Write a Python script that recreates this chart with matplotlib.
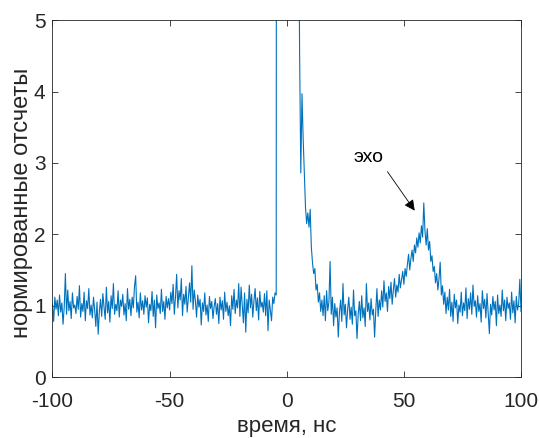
import numpy as np
import matplotlib
matplotlib.use('Agg')
import matplotlib.pyplot as plt

plt.rcParams['font.family'] = ['Liberation Sans', 'DejaVu Sans']
plt.rcParams['axes.unicode_minus'] = False

# sampled every 0.5 ns starting at -100 ns
t_start = -100.0
t_step = 0.5

# -100 .. -4.5 ns, background before the pulse
pre_pulse = [
    1.02, 0.78, 1.12, 0.95, 1.08, 0.86, 1.15, 0.91, 1.04, 0.74, 0.98, 1.45, 0.88, 1.22, 0.93, 1.06, 0.82, 1.18, 0.97, 1.01,
    0.89, 1.13, 0.95, 1.28, 0.84, 1.03, 0.92, 1.19, 0.79, 1.07, 0.96, 1.24, 0.87, 1.01, 0.83, 1.12, 0.94, 0.71, 1.05, 0.60,
    0.92, 1.09, 0.85, 1.17, 0.98, 0.81, 1.26, 0.90, 1.06, 0.77, 1.14, 0.96, 1.31, 0.88, 1.02, 0.93, 1.21, 0.84, 1.08, 0.99,
    1.16, 0.87, 1.03, 0.79, 1.24, 0.95, 1.09, 0.86, 1.12, 0.97, 1.27, 1.42, 0.91, 1.05, 0.83, 1.18, 0.94, 1.07, 0.88, 1.14,
    0.98, 1.11, 0.76, 1.02, 0.93, 1.20, 0.85, 1.08, 0.69, 1.15, 0.96, 1.04, 0.89, 1.23, 0.92, 1.06, 0.81, 1.13, 0.97, 1.10,
    0.94, 1.19, 1.03, 1.30, 0.88, 1.12, 1.44, 0.97, 1.21, 1.08, 1.38, 0.86, 1.16, 1.02, 1.27, 0.91, 1.11, 1.32, 1.05, 1.56,
    0.95, 1.22, 1.07, 0.84, 1.15, 0.98, 1.09, 0.73, 1.04, 0.92, 1.18, 0.87, 1.01, 0.78, 1.13, 0.96, 1.06, 0.82, 0.99, 1.10,
    0.88, 1.03, 0.75, 1.12, 0.94, 1.07, 0.81, 1.19, 0.92, 1.05, 0.86, 1.00, 0.72, 1.14, 0.95, 1.23, 0.89, 1.08, 0.97, 1.31,
    0.85, 1.26, 1.02, 0.76, 1.18, 0.63, 1.09, 0.90, 1.29, 0.97, 1.16, 0.84, 1.07, 1.24, 0.93, 1.11, 0.80, 1.20, 0.98, 1.05,
    0.91, 1.17, 0.86, 1.21, 0.65, 1.08, 0.93, 0.79, 1.12, 1.03, 1.18, 1.15,
]
# -4 .. 5 ns, main pulse (off scale)
pulse = [38, 72, 95, 110, 118, 121, 119, 112, 101, 88, 74, 60, 47, 36, 27, 20, 14, 10, 7.0]
# 5.5 .. 15 ns
decay = [4.50, 2.86, 3.97, 3.35, 2.85, 2.38, 2.15, 2.30, 2.10, 2.35,
         1.82, 1.60, 1.45, 1.52, 1.22, 1.30, 1.05, 1.18, 0.92, 1.08]
# 15.5 .. 40 ns
valley = [
    0.86, 1.14, 0.79, 1.21, 0.93, 1.05, 1.62, 0.88, 1.12, 0.72,
    1.03, 0.84, 0.97, 0.56, 0.91, 1.08, 0.78, 1.31, 0.87, 1.02,
    0.69, 0.95, 1.12, 0.81, 0.98, 0.74, 1.22, 0.86, 0.93, 0.54,
    0.88, 1.06, 0.79, 1.14, 0.83, 0.97, 0.71, 1.31, 0.92, 1.04,
    0.80, 1.10, 0.87, 0.95, 0.56, 0.93, 1.24, 0.85, 1.08, 0.94,
]
# 40.5 .. 67.5 ns, echo
echo = [
    1.21, 0.98, 1.35, 1.06, 1.18, 0.92, 1.27, 1.10, 1.33, 1.02,
    1.22, 1.38, 1.12, 1.29, 1.19, 1.44, 1.25, 1.36, 1.48, 1.30,
    1.52, 1.41, 1.58, 1.72, 1.50, 1.66, 1.78, 1.62, 1.85, 1.74,
    1.95, 1.82, 2.02, 1.88, 2.12, 1.96, 2.44, 2.05, 1.85, 2.08,
    1.78, 1.90, 1.62, 1.70, 1.48, 1.55, 1.32, 1.45, 1.22, 1.38,
    1.61, 1.15, 1.28, 1.02, 1.19,
]
# 68 .. 100 ns
tail = [
    0.89, 1.12, 0.94, 1.23, 0.85, 1.05, 0.78, 1.16, 0.97, 1.08,
    0.75, 1.01, 0.91, 1.19, 0.86, 1.04, 0.93, 1.25, 0.82, 1.10,
    0.95, 1.18, 0.88, 1.29, 0.99, 1.07, 0.84, 1.14, 0.92, 1.03,
    0.77, 1.21, 0.96, 1.09, 0.83, 1.17, 0.90, 0.61, 1.02, 0.87,
    1.13, 0.94, 1.06, 0.72, 1.15, 0.89, 1.01, 0.85, 1.22, 0.93,
    1.08, 0.79, 1.12, 0.96, 1.04, 0.81, 1.19, 0.90, 1.07, 0.76,
    1.13, 0.94, 1.02, 1.37, 0.92,
]

counts = np.array(pre_pulse + pulse + decay + valley + echo + tail)
t = t_start + t_step * np.arange(len(counts))

x_ticks = [-100, -50, 0, 50, 100]
y_ticks = [0, 1, 2, 3, 4, 5]

fig = plt.figure(figsize=(5.39, 4.38), dpi=100)
ax = fig.add_axes([0.0974, 0.139, 0.8692, 0.815])

ax.plot(t, counts, color='#0072BD', linewidth=0.8)

ax.set_xlim(-100, 100)
ax.set_ylim(0, 5)
ax.set_xticks(x_ticks)
ax.set_yticks(y_ticks)
ax.tick_params(direction='in', top=True, right=True, length=4, width=0.6,
               colors='#262626', labelsize=15)
ax.tick_params(axis='x', pad=11)
ax.tick_params(axis='y', pad=5)
for s in ax.spines.values():
    s.set_color('#262626')
    s.set_linewidth(0.6)

ax.set_xlabel('время, нс', fontsize=16, color='#262626', labelpad=3)
ax.set_ylabel('нормированные отсчеты', fontsize=17, color='#262626')
ax.yaxis.set_label_coords(-0.042, 0.487)

ax.text(35.1, 3.07, 'эхо', fontsize=14, color='k', ha='center', va='center')
ax.annotate('', xy=(55.3, 2.30), xytext=(42.3, 2.91),
            arrowprops=dict(arrowstyle='-|>', color='k', lw=0.6, mutation_scale=16))

fig.savefig('out.png', dpi=100)
